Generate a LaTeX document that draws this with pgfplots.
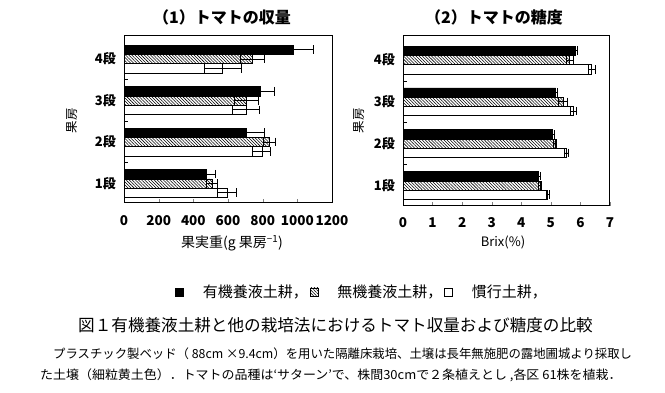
\documentclass[border=0pt]{standalone}
\usepackage{fontspec}
\setmainfont{Noto Sans CJK JP}
\usepackage{pgfplots}
\pgfplotsset{compat=1.18}
\usetikzlibrary{patterns.meta}
\pgfplotsset{
  mybars/.style={
    scale only axis,
    xbar,
    bar width=9.3pt,
    axis line style={line width=1pt},
    tick align=inside,
    xtick pos=lower,
    ytick pos=left,
    major tick length=3.5pt,
    minor tick length=4pt,
    ytick={1,2,3,4},
    yticklabels={1段,2段,3段,4段},
    minor ytick={1.5,2.5,3.5},
    major y tick style={draw=none},
    minor y tick style={line width=0.6pt, draw=black},
    /pgf/number format/assume math mode=true,
    /pgf/number format/set thousands separator={},
    xticklabel style={font=\bfseries\fontsize{13.5}{13.5}\selectfont, anchor=center, yshift=-18pt},
    yticklabel style={font=\bfseries\fontsize{13}{13}\selectfont, anchor=east, inner sep=0pt, xshift=-8pt},
    error bars/x dir=both,
    error bars/x explicit,
    error bars/error mark=|,
    error bars/error bar style={black, line width=0.8pt},
    error bars/error mark options={black, mark size=4.3pt, line width=0.8pt},
  },
  blk/.style={fill=black, draw=black, line width=0.6pt, bar shift=9.3pt},
  hat/.style={draw=black, line width=0.6pt, pattern={Lines[angle=-45,distance=2.2pt,line width=0.55pt]}, bar shift=0pt},
  wht/.style={fill=white, draw=black, line width=0.6pt, bar shift=-9.3pt},
}
\begin{document}
\begin{tikzpicture}
\path[use as bounding box] (0pt,0pt) rectangle (665pt,393pt);
% ---------- (1) yield ----------
\begin{axis}[mybars,
  at={(124pt,190pt)}, anchor=south west,
  width=208pt, height=167pt,
  xmin=0, xmax=1200, ymin=0.53, ymax=4.555,
  xtick={0,200,400,600,800,1000,1200},
  legend columns=3,
  legend style={draw=none, fill=none, inner sep=0pt, at={(175pt-124pt,101pt-190pt)}, anchor=west,
    font=\fontsize{15}{15}\selectfont,
    /tikz/every even column/.append style={column sep=0pt},
    /tikz/every odd column/.append style={column sep=13pt}},
  legend image code/.code={\draw[#1, line width=0.6pt] (0pt,-4pt) rectangle (8pt,4pt);},
]
\addplot[blk] table[x=v, y=g, x error=e] {
g v e
1 473 52
2 708 100
3 789 77
4 974 120
};
\addplot[hat] table[x=v, y=g, x error=e] {
g v e
1 509 31
2 837 35
3 707 69
4 739 69
};
\addplot[wht] table[x=v, y=g, x error=e] {
g v e
1 594 56
2 795 52
3 704 78
4 569 108
};
\legend{\hspace{4pt}有機養液土耕，,\hspace{4pt}無機養液土耕，,\hspace{4pt}慣行土耕，}
\end{axis}
% ---------- (2) Brix ----------
\begin{axis}[mybars,
  at={(403pt,187pt)}, anchor=south west,
  width=207pt, height=170pt,
  xmin=0, xmax=7, ymin=0.51, ymax=4.574,
  xtick={0,1,2,3,4,5,6,7},
  xticklabel style={yshift=1pt},
]
\addplot[blk] table[x=v, y=g, x error=e] {
g v e
1 4.59 0.05
2 5.06 0.07
3 5.16 0.06
4 5.83 0.07
};
\addplot[hat] table[x=v, y=g, x error=e] {
g v e
1 4.64 0.05
2 5.15 0.05
3 5.41 0.15
4 5.64 0.11
};
\addplot[wht] table[x=v, y=g, x error=e] {
g v e
1 4.89 0.05
2 5.53 0.08
3 5.75 0.10
4 6.38 0.11
};
\end{axis}
% ---------- titles and labels ----------
\node[font=\bfseries\fontsize{16}{16}\selectfont] at (222pt,376pt) {（1）トマトの収量};
\node[font=\bfseries\fontsize{16}{16}\selectfont] at (494pt,376pt) {（2）トマトの糖度};
\node[rotate=90, font=\fontsize{12.5}{12.5}\selectfont] at (72pt,272pt) {果房};
\node[rotate=90, font=\fontsize{12.5}{12.5}\selectfont] at (359pt,272pt) {果房};
\node[font=\fontsize{14}{14}\selectfont] at (232pt,150pt) {果実重(g 果房\textsuperscript{−1})};
\node[font=\fontsize{13}{13}\selectfont] at (503pt,151pt) {Brix(\%)};
% ---------- caption ----------
\node[anchor=west, inner sep=0pt, font=\fontsize{16.6}{16.6}\selectfont] at (78pt,68pt) {図１有機養液土耕と他の栽培法におけるトマト収量および糖度の比較};
\node[anchor=west, inner sep=0pt, font=\fontsize{12.5}{12.5}\selectfont] at (53pt,39pt) {\scalebox{0.99}[1]{プラスチック製ベッド（ 88cm ×9.4cm）を用いた隔離床栽培、土壌は長年無施肥の露地圃城より採取し}};
\node[anchor=west, inner sep=0pt, font=\fontsize{12.5}{12.5}\selectfont] at (40pt,18pt) {\scalebox{1.037}[1]{た土壌（細粒黄土色）．トマトの品種は‘サターン’で、株間30cmで２条植えとし ,各区 61株を植栽．}};
\end{tikzpicture}
\end{document}
